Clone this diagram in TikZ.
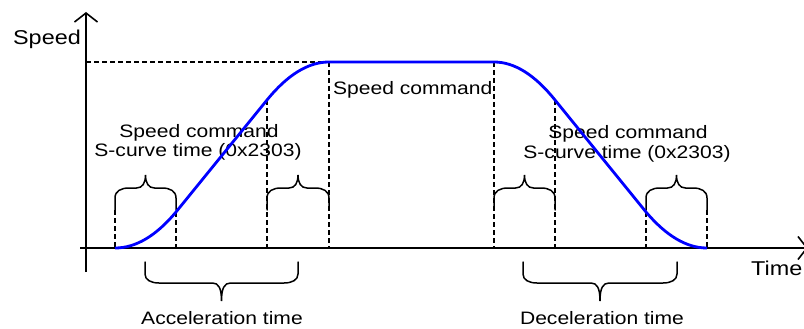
\documentclass[tikz,border=0pt]{standalone}
\usepackage{fontspec}
\usepackage{graphicx}
\setmainfont{Liberation Sans}
\usetikzlibrary{arrows.meta}
\newcommand\sx[1]{\scalebox{1.17}[1]{#1}}
\newcommand\bracup[2]{%
  \pgfmathsetmacro\bm{(#1+#2)/2}%
  \draw[brace] (#1,210) -- (#1,198) .. controls (#1,191) and (#1+6,188) .. (#1+14,188)
    -- (\bm-9,188) .. controls (\bm-3,188) and (\bm,183) .. (\bm,175)
    .. controls (\bm,183) and (\bm+3,188) .. (\bm+9,188)
    -- (#2-14,188) .. controls (#2-6,188) and (#2,191) .. (#2,198) -- (#2,210);}
\newcommand\bracdown[2]{%
  \pgfmathsetmacro\bm{(#1+#2)/2}%
  \draw[brace] (#1,262) -- (#1,274) .. controls (#1,280) and (#1+6,283) .. (#1+14,283)
    -- (\bm-9,283) .. controls (\bm-3,283) and (\bm,288) .. (\bm,301)
    .. controls (\bm,288) and (\bm+3,283) .. (\bm+9,283)
    -- (#2-14,283) .. controls (#2-6,283) and (#2,280) .. (#2,274) -- (#2,262);}
\begin{document}
\begin{tikzpicture}[x=1pt,y=-1pt,
  axis/.style={line width=2.3pt},
  tipstyle/.style={-{Straight Barb[length=9pt,width=23pt,line width=1.6pt]}},
  guide/.style={line width=1.3pt, dash pattern=on 5pt off 3pt},
  curve/.style={blue, line width=2.8pt},
  brace/.style={line width=1.5pt, line cap=round},
  lbl/.style={inner sep=0pt, font=\fontsize{18}{20}\selectfont},
  big/.style={inner sep=0pt, font=\fontsize{20}{22}\selectfont}]
\useasboundingbox (0,0) rectangle (804,329);
% key points
\coordinate (ybot) at (86,272);
\coordinate (ytop) at (86,12);
\coordinate (xl) at (80,248);
\coordinate (xr) at (808,248);
\coordinate (ys) at (86,62);
\coordinate (p0) at (115,248);
\coordinate (p1) at (176,212);
\coordinate (p2) at (267,100);
\coordinate (p3) at (329,62);
\coordinate (p4) at (494,62);
\coordinate (p5) at (555,100);
\coordinate (p6) at (646,212);
\coordinate (p7) at (707,248);
\coordinate (b0) at (115,210);
\coordinate (b7) at (707,210);
\coordinate (f1) at (176,248);
\coordinate (f2) at (267,248);
\coordinate (f3) at (329,248);
\coordinate (f4) at (494,248);
\coordinate (f5) at (555,248);
\coordinate (f6) at (646,248);
% labels
\node[big, anchor=base east] (speedlbl) at (81,45) {\sx{Speed}};
\node[big, anchor=base west] (timelbl) at (751,275) {\sx{Time}};
\node[lbl, anchor=base west] (cmd) at (333,95) {\sx{Speed command}};
\node[lbl, anchor=base] (l1a) at (199,138) {\sx{Speed command}};
\node[lbl, anchor=base] (l1b) at (198,157) {\sx{S-curve time (0x2303)}};
\node[lbl, anchor=base] (r1a) at (628,139) {\sx{Speed command}};
\node[lbl, anchor=base] (r1b) at (627,158) {\sx{S-curve time (0x2303)}};
\node[lbl, anchor=base] (acc) at (222,324) {\sx{Acceleration time}};
\node[lbl, anchor=base] (dec) at (602,324) {\sx{Deceleration time}};
% guides
\draw[guide] (ys) -- (p3);
\draw[guide] (b0) -- (p0);
\draw[guide] (p1) -- (f1);
\draw[guide] (p2) -- (f2);
\draw[guide] (p3) -- (f3);
\draw[guide] (p4) -- (f4);
\draw[guide] (p5) -- (f5);
\draw[guide] (p6) -- (f6);
\draw[guide] (b7) -- (p7);
% braces
\bracup{115}{176}
\bracup{267}{329}
\bracup{494}{555}
\bracup{646}{707}
\bracdown{145}{298}
\bracdown{523}{677}
% axes
\draw[axis, tipstyle] (ybot) -- (ytop);
\draw[axis, tipstyle] (xl) -- (xr);
% speed curve
\draw[curve, line join=round] (p0) .. controls (135.7,248) and (156,236) .. (p1)
  -- (p2) .. controls (287.6,74.7) and (308.3,62) .. (p3)
  -- (p4) .. controls (514.3,62) and (534.7,74.7) .. (p5)
  -- (p6) .. controls (666.3,236) and (686.7,248) .. (p7);
\end{tikzpicture}
\end{document}
